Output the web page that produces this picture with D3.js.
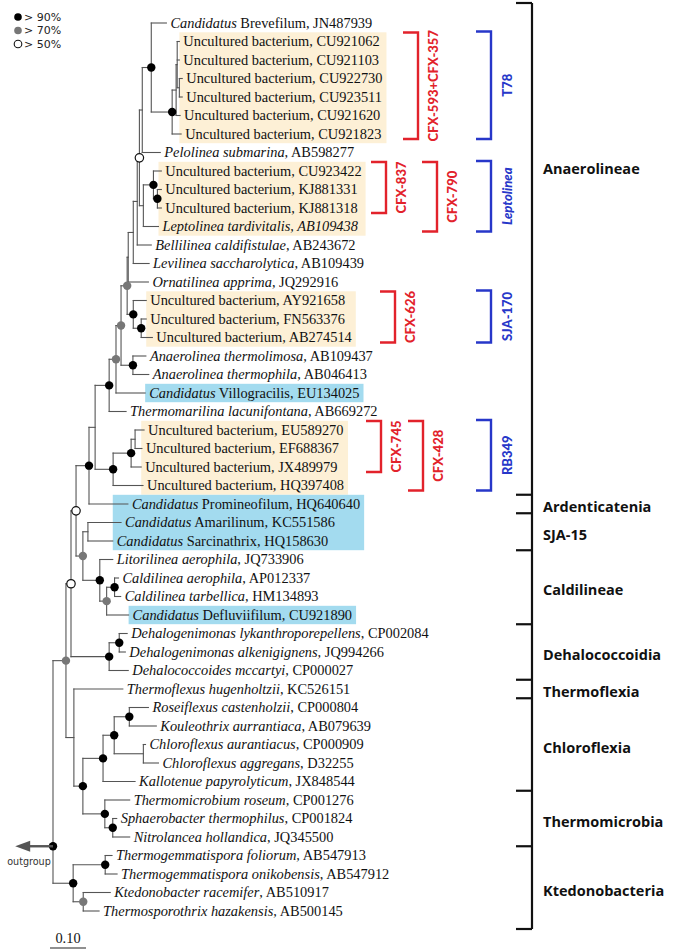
<!DOCTYPE html>
<html><head><meta charset="utf-8">
<script src="https://cdn.jsdelivr.net/npm/d3@7"></script>
<style>body{margin:0;background:#fff} svg{display:block} text{white-space:pre}</style>
</head><body><svg id="c" width="676" height="952"></svg>
<script>
// ---------- DATA ----------
const leafIds = ["Brevefilum","CU921062","CU921103","CU922730","CU923511","CU921620","CU921823","Pelolinea","CU923422","KJ881331","KJ881318","Leptolinea","Bellilinea","Levilinea","Ornatilinea","AY921658","FN563376","AB274514","Athermolimosa","Athermophila","Villogracilis","Thermomarilina","EU589270","EF688367","JX489979","HQ397408","Promineofilum","Amarilinum","Sarcinathrix","Litorilinea","Caerophila","Ctarbellica","Defluviifilum","Dlykanthro","Dalkenig","Dmccartyi","Thermoflexus","Roseiflexus","Kouleothrix","Caurantiacus","Caggregans","Kallotenue","Troseum","Sphaerobacter","Nitrolancea","Tfoliorum","Tonikobensis","Ktedonobacter","Thermosporothrix"];
const leafItalic = ["Candidatus","","","","","","","Pelolinea submarina","","","","Leptolinea tardivitalis, AB109438","Bellilinea caldifistulae","Levilinea saccharolytica","Ornatilinea apprima","","","","Anaerolinea thermolimosa","Anaerolinea thermophila","Candidatus","Thermomarilina lacunifontana","","","","","Candidatus","Candidatus","Candidatus","Litorilinea aerophila","Caldilinea aerophila","Caldilinea tarbellica","Candidatus","Dehalogenimonas lykanthroporepellens","Dehalogenimonas alkenigignens,","Dehalococcoides mccartyi,","Thermoflexus hugenholtzii","Roseiflexus castenholzii","Kouleothrix aurrantiaca","Chloroflexus aurantiacus","Chloroflexus aggregans","Kallotenue papyrolyticum","Thermomicrobium roseum,","Sphaerobacter thermophilus","Nitrolancea hollandica","Thermogemmatispora foliorum,","Thermogemmatispora onikobensis","Ktedonobacter racemifer","Thermosporothrix hazakensis,"];
const leafRoman = [" Brevefilum, JN487939","Uncultured bacterium, CU921062","Uncultured bacterium, CU921103","Uncultured bacterium, CU922730","Uncultured bacterium, CU923511","Uncultured bacterium, CU921620","Uncultured bacterium, CU921823",", AB598277","Uncultured bacterium, CU923422","Uncultured bacterium, KJ881331","Uncultured bacterium, KJ881318","",", AB243672",", AB109439",", JQ292916","Uncultured bacterium, AY921658","Uncultured bacterium, FN563376","Uncultured bacterium, AB274514",", AB109437",", AB046413"," Villogracilis, EU134025",", AB669272","Uncultured bacterium, EU589270","Uncultured bacterium, EF688367","Uncultured bacterium, JX489979","Uncultured bacterium, HQ397408"," Promineofilum, HQ640640"," Amarilinum, KC551586"," Sarcinathrix, HQ158630",", JQ733906",", AP012337",", HM134893"," Defluviifilum, CU921890",", CP002084"," JQ994266"," CP000027",", KC526151",", CP000804",", AB079639",", CP000909",", D32255",", JX848544"," CP001276",", CP001824",", JQ345500"," AB547913",", AB547912",", AB510917"," AB500145"];

// tree: [node, parent, branch length (subst./site), bootstrap class]
const treeEdges = [
["R","",0,90],["G","R",0.036,70],["W2","G",0.014,50],["W1","W2",0.014,50],["A","W1",0.036,90],
["AN","A",0.017,null],["AB","AN",0.039,90],["AC","AB",0.019,70],["AD","AC",0.014,70],["AE","AD",0.017,70],
["AF","AE",0.003,null],["AG","AF",0.014,null],["AH","AG",0.011,null],["P2","AH",0.006,50],["P1","P2",0.008,null],
["B","P1",0.025,90],["Brevefilum","B",0.042,null],["T0","B",0.058,90],["Ta","T0",0.011,null],["Tb","Ta",0.003,null],
["CU921062","Tb",0.006,null],["CU921103","Tb",0.006,null],["Tc","Tb",0.006,null],["CU922730","Tc",0.008,null],
["CU923511","Tc",0.008,null],["CU921620","Ta",0.011,null],["CU921823","T0",0.025,null],["Pelolinea","P1",0.050,null],
["L","P2",0.011,null],["L1","L",0.028,90],["CU923422","L1",0.022,null],["L2","L1",0.011,90],["KJ881331","L2",0.011,null],
["KJ881318","L2",0.011,null],["Leptolinea","L",0.042,null],["Bellilinea","AH",0.039,null],["Levilinea","AG",0.044,null],
["Ornatilinea","AF",0.056,null],["C626","AE",0.017,90],["AY921658","C626",0.036,null],["C626b","C626",0.022,90],
["FN563376","C626b",0.014,null],["AB274514","C626b",0.031,null],["AT","AD",0.033,90],["Athermolimosa","AT",0.036,null],
["Athermophila","AT",0.044,null],["Villogracilis","AC",0.081,null],["Thermomarilina","AB",0.047,null],
["RB","AN",0.050,90],["RB2","RB",0.050,90],["RB1","RB2",0.011,null],["EU589270","RB1",0.025,null],["EF688367","RB1",0.019,null],
["JX489979","RB2",0.028,null],["HQ397408","RB",0.083,null],["Promineofilum","A",0.108,null],
["S","W1",0.019,70],["SJ","S",0.014,null],["Amarilinum","SJ",0.092,null],["Sarcinathrix","SJ",0.069,null],
["C","S",0.047,90],["Litorilinea","C",0.036,null],["CC","C",0.019,70],["Cal","CC",0.022,90],["Caerophila","Cal",0.011,null],
["Ctarbellica","Cal",0.017,null],["Defluviifilum","CC",0.061,null],
["D","W2",0.106,90],["DD","D",0.028,90],["Dlykanthro","DD",0.022,null],["Dalkenig","DD",0.017,null],["Dmccartyi","D",0.053,null],
["T","G",0.022,null],["Thermoflexus","T",0.136,null],["CT","T",0.025,90],["CH","CT",0.056,90],["RKC","CH",0.031,90],
["RK","RKC",0.042,90],["Roseiflexus","RK",0.053,null],["Kouleothrix","RK",0.075,null],["Chl","RKC",0.081,null],
["Caurantiacus","Chl",0.006,null],["Caggregans","Chl",0.042,null],["Kallotenue","CH",0.089,null],
["TM","CT",0.061,90],["Troseum","TM",0.069,null],["SN","TM",0.022,90],["Sphaerobacter","SN",0.011,null],["Nitrolancea","SN",0.047,null],
["K","R",0.056,90],["TG","K",0.089,90],["Tfoliorum","TG",0.019,null],["Tonikobensis","TG",0.033,null],
["KT","K",0.028,70],["Ktedonobacter","KT",0.075,null],["Thermosporothrix","KT",0.044,null]
];
const outgroupBetween = ["Nitrolancea","Tfoliorum"];

const highlightKind = ["uncultured","uncultured","uncultured","uncultured","candidatus","candidatus","candidatus"];
const highlightFrom = ["CU921062","CU923422","AY921658","EU589270","Villogracilis","Promineofilum","Defluviifilum"];
const highlightTo   = ["CU921823","Leptolinea","AB274514","HQ397408","Villogracilis","Sarcinathrix","Defluviifilum"];

const probeNames = ["CFX-593+CFX-357","CFX-837","CFX-790","CFX-626","CFX-745","CFX-428"];
const probeFrom  = ["CU921062","CU923422","CU923422","AY921658","EU589270","EU589270"];
const probeTo    = ["CU921823","KJ881318","Leptolinea","AB274514","JX489979","HQ397408"];

const groupNames = ["T78","Leptolinea","SJA-170","RB349"];
const groupFrom  = ["CU921062","CU923422","AY921658","EU589270"];
const groupTo    = ["CU921823","Leptolinea","AB274514","HQ397408"];

const classNames = ["Anaerolineae","Ardenticatenia","SJA-15","Caldilineae","Dehalococcoidia","Thermoflexia","Chloroflexia","Thermomicrobia","Ktedonobacteria"];
const classFirst = ["Brevefilum","Promineofilum","Amarilinum","Litorilinea","Dlykanthro","Thermoflexus","Roseiflexus","Troseum","Tfoliorum"];
const classLast  = ["HQ397408","Promineofilum","Sarcinathrix","Defluviifilum","Dmccartyi","Thermoflexus","Kallotenue","Nitrolancea","Thermosporothrix"];
const classLabelLeaf = ["CU923422",null,null,null,null,null,null,null,null];

const legendLabels = ["> 90%","> 70%","> 50%"];
const legendClasses = [90,70,50];
const scaleBarValue = 0.10;

// ---------- STYLE / LAYOUT ----------
const W = 676, H = 952;
const supportFill = {90:"#000", 70:"#777", 50:"#fff"};
const hiFill = {uncultured:"#fdf0d6", candidatus:"#a3dbef"};
const RED = "#e2222b", BLUE = "#2737c9";
const probeX = [418,386,437,395,381,423];
const groupX = 491;
const classX = 532;
const serif = "'Liberation Serif','Times New Roman',serif";
const sans = "Lato,'Open Sans',sans-serif";
const classFont = "'Open Sans',Lato,sans-serif";

const svg = d3.select("#c");
svg.append("rect").attr("width",W).attr("height",H).attr("fill","#fff");

const yScale = d3.scaleLinear().domain([0, leafIds.length-1]).range([23, 911]);
const xScale = d3.scaleLinear().domain([0, 0.1]).range([53, 89]);
const leafIndex = new Map(leafIds.map((d,i)=>[d,i]));
const leafY = id => yScale(leafIndex.get(id));

const root = d3.stratify().id(d=>d[0]).parentId(d=>d[1]||null)(treeEdges);
root.eachBefore(n => { n.dist = n.parent ? n.parent.dist + n.data[2] : 0; n.px = xScale(n.dist); });
root.eachAfter(n => {
  if (!n.children) n.py = leafY(n.id);
  else { const ys = n.children.map(c=>c.py); n.py = (d3.min(ys)+d3.max(ys))/2; }
});
root.py = (leafY(outgroupBetween[0]) + leafY(outgroupBetween[1]))/2;

const gHi = svg.append("g");
const gTree = svg.append("g").attr("stroke","#555").attr("stroke-width",1.1).attr("fill","none").attr("stroke-linecap","square");
const gLab = svg.append("g").attr("font-family",serif).attr("font-size",14.4).attr("fill","#111");
const gDots = svg.append("g");

// branches
root.descendants().forEach(n => {
  if (n.parent) gTree.append("line").attr("x1",n.parent.px).attr("x2",n.px).attr("y1",n.py).attr("y2",n.py);
  if (n.children) {
    const ys = n.children.map(c=>c.py).concat([n.py]);
    gTree.append("line").attr("x1",n.px).attr("x2",n.px).attr("y1",d3.min(ys)).attr("y2",d3.max(ys));
  }
});

// outgroup arrow
const ogLen = 0.105;
svg.append("line").attr("x1",root.px).attr("x2",xScale(-ogLen)+12).attr("y1",root.py).attr("y2",root.py)
  .attr("stroke","#555").attr("stroke-width",2.4);
svg.append("path").attr("d",`M${xScale(-ogLen)},${root.py} L${xScale(-ogLen)+15},${root.py-5.5} L${xScale(-ogLen)+15},${root.py+5.5}Z`).attr("fill","#555");
svg.append("text").attr("x",xScale(-ogLen)-8).attr("y",root.py+15).attr("dy","0.35em")
  .attr("font-family","'DejaVu Sans',sans-serif").attr("font-size",9.6).attr("fill","#333").text("outgroup");

// dots
root.descendants().filter(n=>n.data[3]).forEach(n => {
  gDots.append("circle").attr("cx",n.px).attr("cy",n.py).attr("r",4.2)
    .attr("fill",supportFill[n.data[3]]).attr("stroke", n.data[3]===50?"#111":"none").attr("stroke-width",1.2);
});

// leaf labels
const labelNode = new Map();
root.leaves().forEach(n => {
  const i = leafIndex.get(n.id);
  const t = gLab.append("text").attr("x",n.px+4).attr("y",n.py).attr("dy","0.34em");
  if (leafItalic[i]) t.append("tspan").attr("font-style","italic").text(leafItalic[i]);
  if (leafRoman[i]) t.append("tspan").text(leafRoman[i]);
  labelNode.set(n.id, t.node());
});

// highlight boxes
highlightKind.forEach((k,j) => {
  const i0 = leafIndex.get(highlightFrom[j]), i1 = leafIndex.get(highlightTo[j]);
  const ids = leafIds.slice(i0, i1+1);
  const x0 = d3.min(ids, id => +labelNode.get(id).getAttribute("x")) - 4;
  const x1 = d3.max(ids, id => +labelNode.get(id).getAttribute("x") + labelNode.get(id).getComputedTextLength()) + 4;
  gHi.append("rect").attr("x",x0).attr("y",yScale(i0)-9.2).attr("width",x1-x0).attr("height",yScale(i1)-yScale(i0)+18.4).attr("fill",hiFill[k]);
});

function bracket(x, y0, y1, len, color, w) {
  svg.append("path").attr("d",`M${x-len},${y0}H${x}V${y1}H${x-len}`).attr("fill","none").attr("stroke",color).attr("stroke-width",w);
}
function vlabel(x, yc, txt, color, size, italic) {
  svg.append("text").attr("transform",`translate(${x},${yc}) rotate(-90)`).attr("text-anchor","middle").attr("dy","0.35em")
    .attr("font-family",sans).attr("font-weight","900").attr("font-size",size).attr("fill",color)
    .attr("font-style", italic?"italic":"normal").text(txt);
}
probeNames.forEach((p,j) => {
  const y0 = leafY(probeFrom[j]) - 9, y1 = leafY(probeTo[j]) + 5;
  bracket(probeX[j], y0, y1, 15, RED, 2.4);
  vlabel(probeX[j]+15, (y0+y1)/2, p, RED, 13);
});
groupNames.forEach((p,j) => {
  const y0 = leafY(groupFrom[j]) - 10, y1 = leafY(groupTo[j]) + 5;
  bracket(groupX, y0, y1, 15, BLUE, 2.4);
  vlabel(groupX+16, (y0+y1)/2, p, BLUE, 13, p==="Leptolinea");
});

// class bracket
const bounds = classFirst.map((f,j) => j===0 ? leafY(f)-20 : (leafY(f)+yScale(leafIndex.get(f)-1))/2);
bounds.push(leafY(classLast[classLast.length-1]) + 18);
svg.append("line").attr("x1",classX).attr("x2",classX).attr("y1",bounds[0]).attr("y2",bounds[bounds.length-1]).attr("stroke","#111").attr("stroke-width",2.2);
bounds.forEach(b => svg.append("line").attr("x1",classX-16).attr("x2",classX).attr("y1",b).attr("y2",b).attr("stroke","#111").attr("stroke-width",2.2));
classNames.forEach((c,j) => {
  const y = classLabelLeaf[j] ? leafY(classLabelLeaf[j]) - 2 : (bounds[j]+bounds[j+1])/2 + 3;
  svg.append("text").attr("x",classX+11).attr("y",y).attr("dy","0.35em").attr("font-family",classFont).attr("font-weight","bold")
    .attr("font-size",14.5).attr("fill","#111").text(c);
});

// legend
legendLabels.forEach((l,j) => {
  const y = 17 + j*13.5;
  svg.append("circle").attr("cx",18).attr("cy",y).attr("r",3.8).attr("fill",supportFill[legendClasses[j]])
    .attr("stroke", legendClasses[j]===50?"#111":"none").attr("stroke-width",1.1);
  svg.append("text").attr("x",24).attr("y",y).attr("dy","0.35em").attr("font-family","'DejaVu Sans',sans-serif")
    .attr("font-size",11).attr("fill","#222").text(l);
});

// scale bar
const sbW = xScale(scaleBarValue) - xScale(0);
svg.append("line").attr("x1",50).attr("x2",50+sbW).attr("y1",948).attr("y2",948).attr("stroke","#222").attr("stroke-width",1.2);
svg.append("text").attr("x",50+sbW/2).attr("y",938).attr("dy","0.35em").attr("text-anchor","middle")
  .attr("font-family",serif).attr("font-size",14.4).attr("fill","#111").text(scaleBarValue.toFixed(2));
</script></body></html>
